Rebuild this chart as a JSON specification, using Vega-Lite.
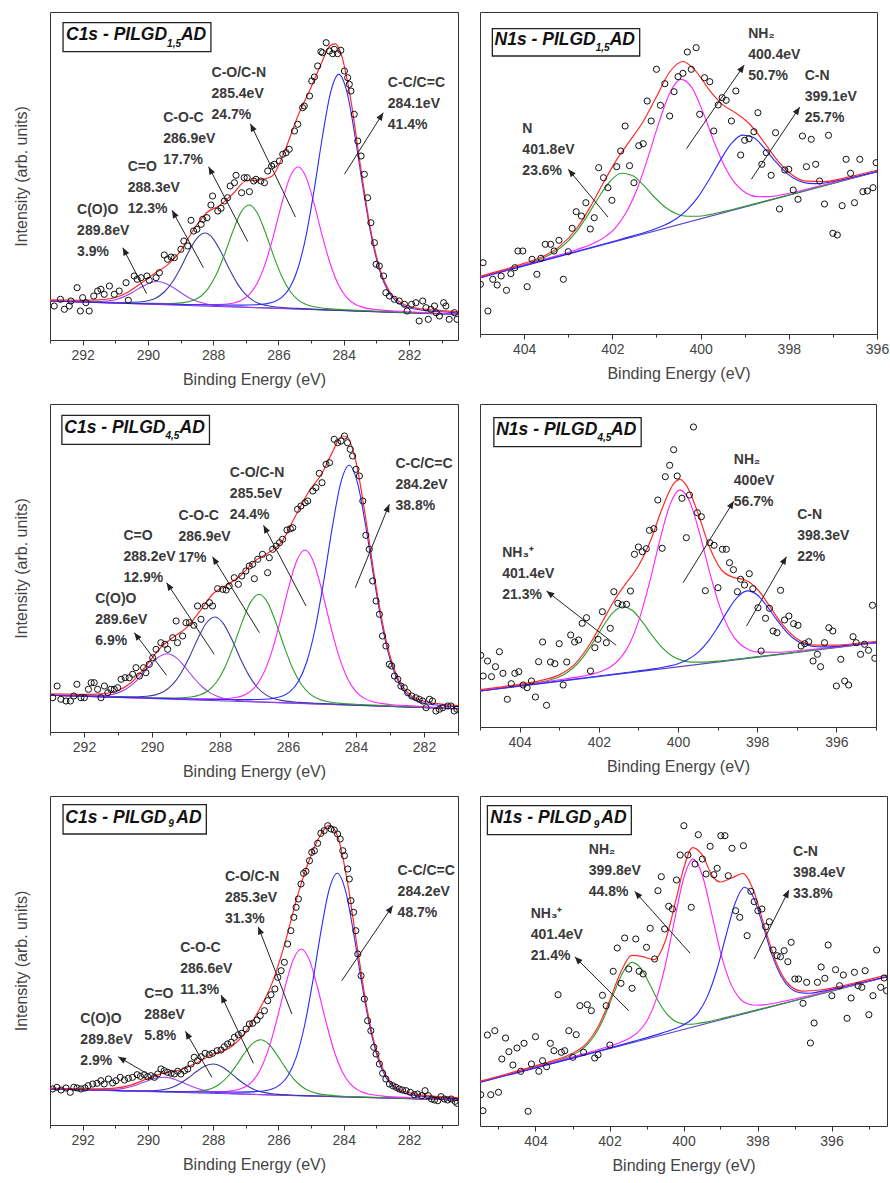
{
"$schema": "https://vega.github.io/schema/vega-lite/v6.json",
"padding": {"left": 12, "top": 11, "right": 0, "bottom": 0},
"background": "white",
"config": {
 "font": "Liberation Sans",
 "view": {"stroke": "#333", "strokeWidth": 1},
 "axisX": {"grid": false, "domain": false, "tickColor": "#333", "labelFontSize": 14, "labelColor": "#444", "labelPadding": 3, "titleFontSize": 16, "titleFontWeight": "normal", "titleColor": "#444", "titlePadding": 9, "labelOverlap": false, "labelFlush": false},
 "axisY": {"grid": false, "domain": false, "ticks": false, "labels": false, "titleFontSize": 16, "titleFontWeight": "normal", "titleColor": "#444", "titlePadding": 21}
},
"datasets": {
 "c1": [
  {"s":"bg","x":293,"y":39},{"s":"bg","x":280.5,"y":25.7},
  {"s":"A","x":293,"y":39},{"s":"A","x":292.7,"y":38.9},{"s":"A","x":292.2,"y":38.45},{"s":"A","x":291.7,"y":38.2},{"s":"A","x":291.2,"y":39.2},{"s":"A","x":290.95,"y":40.8},{"s":"A","x":290.7,"y":43.75},{"s":"A","x":290.45,"y":48.1},{"s":"A","x":290.2,"y":53},{"s":"A","x":289.95,"y":57.05},{"s":"A","x":289.7,"y":58.5},{"s":"A","x":289.45,"y":56.5},{"s":"A","x":289.2,"y":51.95},{"s":"A","x":288.95,"y":46.5},{"s":"A","x":288.7,"y":41.6},{"s":"A","x":288.45,"y":38.15},{"s":"A","x":288.2,"y":36},{"s":"A","x":287.7,"y":33.95},{"s":"A","x":287.2,"y":33.1},{"s":"A","x":286.7,"y":32.5},{"s":"A","x":280.5,"y":25.7},
  {"s":"B","x":293,"y":39},{"s":"B","x":291.25,"y":37.8},{"s":"B","x":290.75,"y":37.55},{"s":"B","x":290.25,"y":38},{"s":"B","x":290,"y":39.2},{"s":"B","x":289.75,"y":42.1},{"s":"B","x":289.5,"y":48},{"s":"B","x":289.25,"y":58},{"s":"B","x":289,"y":72.1},{"s":"B","x":288.75,"y":88.3},{"s":"B","x":288.5,"y":101.7},{"s":"B","x":288.25,"y":106.95},{"s":"B","x":288,"y":101.2},{"s":"B","x":287.75,"y":87.2},{"s":"B","x":287.5,"y":70.55},{"s":"B","x":287.25,"y":55.9},{"s":"B","x":287,"y":45.3},{"s":"B","x":286.75,"y":38.9},{"s":"B","x":286.5,"y":35.5},{"s":"B","x":286.25,"y":33.8},{"s":"B","x":285.75,"y":32.3},{"s":"B","x":285.25,"y":31.4},{"s":"B","x":280.5,"y":25.7},
  {"s":"C","x":293,"y":39},{"s":"C","x":289.9,"y":36.6},{"s":"C","x":289.4,"y":36.5},{"s":"C","x":288.9,"y":37.4},{"s":"C","x":288.65,"y":39.2},{"s":"C","x":288.4,"y":43.3},{"s":"C","x":288.15,"y":51.6},{"s":"C","x":287.9,"y":65.9},{"s":"C","x":287.65,"y":85.9},{"s":"C","x":287.4,"y":108.5},{"s":"C","x":287.15,"y":127.6},{"s":"C","x":286.9,"y":135},{"s":"C","x":286.65,"y":127},{"s":"C","x":286.4,"y":107.5},{"s":"C","x":286.15,"y":84.3},{"s":"C","x":285.9,"y":63.75},{"s":"C","x":285.65,"y":49},{"s":"C","x":285.4,"y":40.1},{"s":"C","x":285.15,"y":35.45},{"s":"C","x":284.9,"y":33.2},{"s":"C","x":284.4,"y":31.15},{"s":"C","x":283.9,"y":30.2},{"s":"C","x":280.5,"y":25.7},
  {"s":"D","x":293,"y":39},{"s":"D","x":288.4,"y":35.4},{"s":"D","x":287.9,"y":35.4},{"s":"D","x":287.4,"y":36.8},{"s":"D","x":287.15,"y":39.5},{"s":"D","x":286.9,"y":45.3},{"s":"D","x":286.65,"y":57},{"s":"D","x":286.4,"y":76.9},{"s":"D","x":286.15,"y":104.8},{"s":"D","x":285.9,"y":136.35},{"s":"D","x":285.65,"y":162.9},{"s":"D","x":285.4,"y":173.3},{"s":"D","x":285.15,"y":162.35},{"s":"D","x":284.9,"y":135.3},{"s":"D","x":284.65,"y":103.2},{"s":"D","x":284.4,"y":74.75},{"s":"D","x":284.15,"y":54.4},{"s":"D","x":283.9,"y":42.1},{"s":"D","x":283.65,"y":35.75},{"s":"D","x":283.4,"y":32.6},{"s":"D","x":282.9,"y":30.1},{"s":"D","x":282.4,"y":29},{"s":"D","x":280.5,"y":25.7},
  {"s":"E","x":293,"y":39},{"s":"E","x":287.15,"y":34.9},{"s":"E","x":286.65,"y":35.3},{"s":"E","x":286.15,"y":38.1},{"s":"E","x":285.9,"y":42.55},{"s":"E","x":285.65,"y":52.4},{"s":"E","x":285.4,"y":72},{"s":"E","x":285.15,"y":104.95},{"s":"E","x":284.9,"y":151.5},{"s":"E","x":284.65,"y":204},{"s":"E","x":284.4,"y":248.15},{"s":"E","x":284.15,"y":265.6},{"s":"E","x":283.9,"y":247.6},{"s":"E","x":283.65,"y":202.95},{"s":"E","x":283.4,"y":149.9},{"s":"E","x":283.15,"y":102.8},{"s":"E","x":282.9,"y":69.35},{"s":"E","x":282.65,"y":49.2},{"s":"E","x":282.4,"y":38.8},{"s":"E","x":282.15,"y":33.9},{"s":"E","x":281.65,"y":30},{"s":"E","x":281.15,"y":28.5},{"s":"E","x":280.5,"y":27.2},
  {"s":"env","x":293,"y":40.1},{"s":"env","x":292.5,"y":39.8},{"s":"env","x":292,"y":39.7},{"s":"env","x":291.5,"y":40.1},{"s":"env","x":291,"y":42.5},{"s":"env","x":290.6,"y":48.1},{"s":"env","x":290.2,"y":57},{"s":"env","x":289.8,"y":66.4},{"s":"env","x":289.4,"y":75.1},{"s":"env","x":289,"y":89.1},{"s":"env","x":288.6,"y":110.5},{"s":"env","x":288.2,"y":127.2},{"s":"env","x":287.8,"y":134.6},{"s":"env","x":287.4,"y":146},{"s":"env","x":287,"y":159},{"s":"env","x":286.6,"y":160.1},{"s":"env","x":286.2,"y":163.8},{"s":"env","x":285.8,"y":189.8},{"s":"env","x":285.4,"y":224.4},{"s":"env","x":285,"y":252.8},{"s":"env","x":284.7,"y":275.6},{"s":"env","x":284.4,"y":294.9},{"s":"env","x":284.25,"y":296.2},{"s":"env","x":284.1,"y":288},{"s":"env","x":283.8,"y":243.1},{"s":"env","x":283.5,"y":176.7},{"s":"env","x":283.2,"y":114.5},{"s":"env","x":282.9,"y":71.7},{"s":"env","x":282.6,"y":48.5},{"s":"env","x":282.2,"y":36.6},{"s":"env","x":281.8,"y":32.2},{"s":"env","x":281,"y":29.3},{"s":"env","x":280.5,"y":28.1}
 ],
 "d1": [
  {"x":292.87,"y":34},{"x":292.68,"y":40.7},{"x":292.56,"y":30.7},{"x":292.41,"y":34},{"x":292.36,"y":39},{"x":292.17,"y":52.3},{"x":292.07,"y":29},{"x":292,"y":42.3},{"x":291.9,"y":37.3},{"x":291.8,"y":29},{"x":291.66,"y":44},{"x":291.54,"y":49},{"x":291.44,"y":50.7},{"x":291.34,"y":45.7},{"x":291.18,"y":54},{"x":291.03,"y":45.7},{"x":290.88,"y":49},{"x":290.67,"y":57.3},{"x":290.6,"y":39.7},{"x":290.42,"y":64},{"x":290.33,"y":60.7},{"x":290.21,"y":62.3},{"x":290.03,"y":64},{"x":289.96,"y":59.7},{"x":289.75,"y":62.3},{"x":289.65,"y":67.3},{"x":289.5,"y":85},{"x":289.4,"y":80.7},{"x":289.29,"y":83},{"x":289.19,"y":82.3},{"x":288.99,"y":90.7},{"x":288.9,"y":99},{"x":288.78,"y":94},{"x":288.68,"y":119.7},{"x":288.6,"y":109},{"x":288.5,"y":110.7},{"x":288.37,"y":115.7},{"x":288.32,"y":120.7},{"x":288.19,"y":122.3},{"x":288.07,"y":135},{"x":288.02,"y":144},{"x":287.86,"y":129},{"x":287.76,"y":131.7},{"x":287.66,"y":139},{"x":287.56,"y":142.3},{"x":287.48,"y":154},{"x":287.35,"y":157.3},{"x":287.3,"y":164.7},{"x":287.13,"y":147.3},{"x":287.05,"y":162.3},{"x":286.96,"y":162.3},{"x":286.89,"y":148.3},{"x":286.76,"y":159},{"x":286.69,"y":160.7},{"x":286.54,"y":159},{"x":286.43,"y":157.3},{"x":286.33,"y":169},{"x":286.21,"y":174},{"x":286.13,"y":175.7},{"x":285.97,"y":179},{"x":285.87,"y":185.7},{"x":285.77,"y":187.3},{"x":285.67,"y":190.7},{"x":285.51,"y":209},{"x":285.41,"y":215.7},{"x":285.26,"y":232.3},{"x":285.21,"y":234},{"x":285.05,"y":244},{"x":284.98,"y":259},{"x":284.9,"y":263},{"x":284.8,"y":274},{"x":284.7,"y":288.3},{"x":284.65,"y":287.3},{"x":284.54,"y":297.3},{"x":284.44,"y":289},{"x":284.34,"y":286.3},{"x":284.29,"y":290.7},{"x":284.19,"y":286.3},{"x":284.09,"y":289.7},{"x":283.98,"y":269},{"x":283.88,"y":262.3},{"x":283.83,"y":255.7},{"x":283.78,"y":249},{"x":283.68,"y":225.7},{"x":283.57,"y":199},{"x":283.47,"y":184},{"x":283.37,"y":165.7},{"x":283.27,"y":142.3},{"x":283.17,"y":117.3},{"x":283.06,"y":97.3},{"x":283.01,"y":75.7},{"x":282.91,"y":74},{"x":282.78,"y":64},{"x":282.71,"y":47.3},{"x":282.6,"y":44},{"x":282.45,"y":40.7},{"x":282.3,"y":39},{"x":282.14,"y":35.7},{"x":282.06,"y":29},{"x":281.92,"y":35.7},{"x":281.79,"y":37.3},{"x":281.69,"y":19},{"x":281.58,"y":39},{"x":281.48,"y":32.3},{"x":281.41,"y":20.7},{"x":281.33,"y":30.7},{"x":281.22,"y":34},{"x":281.17,"y":27.3},{"x":281.07,"y":24},{"x":280.94,"y":37.3},{"x":280.87,"y":34},{"x":280.77,"y":20.7},{"x":280.61,"y":27.3},{"x":280.53,"y":20.7}
 ],
 "l1": [
  {"x":292.17,"y":137,"t":"C(O)O\n289.8eV\n3.9%"},
  {"x":290.62,"y":180,"t":"C=O\n288.3eV\n12.3%"},
  {"x":289.53,"y":229,"t":"C-O-C\n286.9eV\n17.7%"},
  {"x":288.05,"y":274,"t":"C-O/C-N\n285.4eV\n24.7%"},
  {"x":282.65,"y":264,"t":"C-C/C=C\n284.1eV\n41.4%"}
 ],
 "r1": [
  {"x":290.77,"y":92.3,"x2":290.04,"y2":46.3,"a":-27.6},
  {"x":289.26,"y":129.7,"x2":288.3,"y2":72.3,"a":-28.7},
  {"x":288.14,"y":173.3,"x2":286.94,"y2":98.3,"a":-27.5},
  {"x":286.86,"y":216.3,"x2":285.48,"y2":123,"a":-25.7},
  {"x":282.79,"y":227.3,"x2":283.98,"y2":165.7,"a":32.3}
 ],
 "t1": [
  {"k":"box","x":292.6,"x2":288.07,"y":317.3,"y2":288.3},
  {"k":"big","x":292.51,"y":299.7,"t":"C1s - PILGD"},
  {"k":"sub","x":289.2,"y":293.3,"t":"1,5"},
  {"k":"big","x":288.99,"y":299.7,"t":"AD"}
 ],
 "c2": [
  {"s":"bg","x":405,"y":56.3},{"s":"bg","x":396,"y":162.3},
  {"s":"G","x":405,"y":56.3},{"s":"G","x":404.8,"y":59.3},{"s":"G","x":404.3,"y":65.4},{"s":"G","x":403.8,"y":72.2},{"s":"G","x":403.55,"y":76.5},{"s":"G","x":403.3,"y":82.3},{"s":"G","x":403.05,"y":90.9},{"s":"G","x":402.8,"y":103.2},{"s":"G","x":402.55,"y":119.4},{"s":"G","x":402.3,"y":137.3},{"s":"G","x":402.05,"y":152.75},{"s":"G","x":401.8,"y":160.7},{"s":"G","x":401.55,"y":158.6},{"s":"G","x":401.3,"y":149.1},{"s":"G","x":401.05,"y":137},{"s":"G","x":400.8,"y":126.8},{"s":"G","x":400.55,"y":120.3},{"s":"G","x":400.3,"y":117.7},{"s":"G","x":400.05,"y":117.7},{"s":"G","x":399.8,"y":119.4},{"s":"G","x":399.3,"y":124.3},{"s":"G","x":398.8,"y":129.9},{"s":"G","x":396,"y":162.3},
  {"s":"M","x":405,"y":56.3},{"s":"M","x":403.45,"y":75.9},{"s":"M","x":402.95,"y":82.35},{"s":"M","x":402.45,"y":90.2},{"s":"M","x":402.2,"y":96.1},{"s":"M","x":401.95,"y":105.2},{"s":"M","x":401.7,"y":120.4},{"s":"M","x":401.45,"y":143.7},{"s":"M","x":401.2,"y":175.3},{"s":"M","x":400.95,"y":210.6},{"s":"M","x":400.7,"y":240.75},{"s":"M","x":400.45,"y":254.6},{"s":"M","x":400.2,"y":246.6},{"s":"M","x":399.95,"y":222.4},{"s":"M","x":399.7,"y":192.9},{"s":"M","x":399.45,"y":167.3},{"s":"M","x":399.2,"y":149.8},{"s":"M","x":398.95,"y":140.6},{"s":"M","x":398.7,"y":137.3},{"s":"M","x":398.45,"y":137.4},{"s":"M","x":397.95,"y":141.25},{"s":"M","x":397.45,"y":146.5},{"s":"M","x":396,"y":162.3},
  {"s":"K","x":405,"y":56.3},{"s":"K","x":402.05,"y":91.7},{"s":"K","x":401.55,"y":97.9},{"s":"K","x":401.05,"y":104.8},{"s":"K","x":400.8,"y":109.2},{"s":"K","x":400.55,"y":115.2},{"s":"K","x":400.3,"y":124.3},{"s":"K","x":400.05,"y":137.4},{"s":"K","x":399.8,"y":154.8},{"s":"K","x":399.55,"y":173.9},{"s":"K","x":399.3,"y":190.55},{"s":"K","x":399.05,"y":198.9},{"s":"K","x":398.8,"y":196.4},{"s":"K","x":398.55,"y":185.7},{"s":"K","x":398.3,"y":172.4},{"s":"K","x":398.05,"y":160.95},{"s":"K","x":397.8,"y":153.7},{"s":"K","x":397.55,"y":150.6},{"s":"K","x":397.3,"y":150.4},{"s":"K","x":397.05,"y":151.95},{"s":"K","x":396.55,"y":156.8},{"s":"K","x":396,"y":162.4},
  {"s":"env","x":405,"y":57.6},{"s":"env","x":404.5,"y":63.8},{"s":"env","x":404,"y":70.6},{"s":"env","x":403.6,"y":77},{"s":"env","x":403.2,"y":87.4},{"s":"env","x":402.8,"y":106},{"s":"env","x":402.5,"y":127.1},{"s":"env","x":402.2,"y":151.5},{"s":"env","x":401.9,"y":174.4},{"s":"env","x":401.6,"y":193.3},{"s":"env","x":401.3,"y":212.5},{"s":"env","x":401,"y":237.2},{"s":"env","x":400.7,"y":262},{"s":"env","x":400.4,"y":272.5},{"s":"env","x":400.1,"y":262.4},{"s":"env","x":399.8,"y":243.9},{"s":"env","x":399.5,"y":229.4},{"s":"env","x":399.2,"y":220.9},{"s":"env","x":398.9,"y":210.5},{"s":"env","x":398.6,"y":194.2},{"s":"env","x":398.3,"y":175.9},{"s":"env","x":398,"y":161.8},{"s":"env","x":397.6,"y":152.8},{"s":"env","x":397.2,"y":152.4},{"s":"env","x":396.8,"y":155.4},{"s":"env","x":396.4,"y":159.5},{"s":"env","x":396,"y":163.8}
 ],
 "d2": [
  {"x":404.93,"y":71.3},{"x":404.99,"y":49.7},{"x":404.82,"y":23},{"x":404.71,"y":54.7},{"x":404.61,"y":49},{"x":404.52,"y":58},{"x":404.4,"y":43.7},{"x":404.3,"y":60.3},{"x":404.21,"y":66.3},{"x":404.14,"y":83},{"x":404.03,"y":83},{"x":403.93,"y":47.3},{"x":403.82,"y":74.7},{"x":403.71,"y":59.7},{"x":403.62,"y":75.7},{"x":403.52,"y":89.7},{"x":403.4,"y":89.7},{"x":403.32,"y":83},{"x":403.21,"y":93.7},{"x":403.11,"y":54.7},{"x":403,"y":82.3},{"x":402.91,"y":105.7},{"x":402.82,"y":122.3},{"x":402.7,"y":118},{"x":402.6,"y":131.3},{"x":402.5,"y":105},{"x":402.41,"y":116.3},{"x":402.31,"y":166.3},{"x":402.2,"y":156.3},{"x":402.1,"y":146.3},{"x":402.01,"y":133.7},{"x":401.9,"y":167.3},{"x":401.81,"y":183},{"x":401.71,"y":208},{"x":401.61,"y":168.3},{"x":401.51,"y":151.3},{"x":401.4,"y":188.3},{"x":401.3,"y":190.3},{"x":401.21,"y":233},{"x":401.12,"y":213},{"x":401,"y":264.7},{"x":400.91,"y":228.7},{"x":400.81,"y":250.3},{"x":400.7,"y":218},{"x":400.6,"y":242.3},{"x":400.51,"y":257.3},{"x":400.4,"y":260.7},{"x":400.3,"y":282},{"x":400.21,"y":264.7},{"x":400.1,"y":286.3},{"x":400.02,"y":219.7},{"x":399.91,"y":256.3},{"x":399.79,"y":252.3},{"x":399.7,"y":203},{"x":399.6,"y":229},{"x":399.51,"y":236.3},{"x":399.42,"y":233.7},{"x":399.3,"y":213},{"x":399.2,"y":243},{"x":399.09,"y":179},{"x":399,"y":193.7},{"x":398.9,"y":195.3},{"x":398.79,"y":202.3},{"x":398.7,"y":221.3},{"x":398.61,"y":169.7},{"x":398.51,"y":181.3},{"x":398.4,"y":158.7},{"x":398.3,"y":201.3},{"x":398.21,"y":125},{"x":398.09,"y":164},{"x":398,"y":164.7},{"x":397.9,"y":144},{"x":397.79,"y":134.7},{"x":397.69,"y":198},{"x":397.6,"y":167.3},{"x":397.49,"y":194.7},{"x":397.39,"y":169.7},{"x":397.3,"y":153},{"x":397.19,"y":130},{"x":397.1,"y":198.7},{"x":397,"y":100.7},{"x":396.9,"y":99},{"x":396.79,"y":128.3},{"x":396.7,"y":174.7},{"x":396.6,"y":160.7},{"x":396.51,"y":131.3},{"x":396.39,"y":174.7},{"x":396.32,"y":142.3},{"x":396.22,"y":143},{"x":396.09,"y":146.3},{"x":396.02,"y":171.3}
 ],
 "l2": [
  {"x":404.04,"y":212,"t":"N\n401.8eV\n23.6%"},
  {"x":398.92,"y":307,"t":"NH₂\n400.4eV\n50.7%"},
  {"x":397.64,"y":265,"t":"C-N\n399.1eV\n25.7%"}
 ],
 "r2": [
  {"x":403,"y":164.7,"x2":402.1,"y2":117,"a":-40},
  {"x":399.01,"y":269,"x2":400.32,"y2":185.3,"a":34.6},
  {"x":397.75,"y":227,"x2":398.85,"y2":154.7,"a":33.7}
 ],
 "t2": [
  {"k":"box","x":404.72,"x2":401.38,"y":305.3,"y2":278},
  {"k":"big","x":404.67,"y":288.7,"t":"N1s - PILGD"},
  {"k":"sub","x":402.22,"y":283,"t":"1,5"},
  {"k":"big","x":402.06,"y":288.7,"t":"AD"}
 ],
 "c3": [
  {"s":"bg","x":293,"y":36.7},{"s":"bg","x":281,"y":23.3},
  {"s":"A","x":293,"y":36.7},{"s":"A","x":292.55,"y":36.6},{"s":"A","x":292.05,"y":36.24},{"s":"A","x":291.55,"y":36.3},{"s":"A","x":291.3,"y":36.9},{"s":"A","x":291.05,"y":38.6},{"s":"A","x":290.8,"y":42.15},{"s":"A","x":290.55,"y":48.3},{"s":"A","x":290.3,"y":57},{"s":"A","x":290.05,"y":66.9},{"s":"A","x":289.8,"y":75.1},{"s":"A","x":289.55,"y":78.25},{"s":"A","x":289.3,"y":74.6},{"s":"A","x":289.05,"y":65.8},{"s":"A","x":288.8,"y":55.3},{"s":"A","x":288.55,"y":46},{"s":"A","x":288.3,"y":39.35},{"s":"A","x":288.05,"y":35.3},{"s":"A","x":287.8,"y":33},{"s":"A","x":287.55,"y":31.8},{"s":"A","x":287.05,"y":30.66},{"s":"A","x":286.55,"y":29.9},{"s":"A","x":281,"y":23.3},
  {"s":"B","x":293,"y":36.7},{"s":"B","x":291.15,"y":35.4},{"s":"B","x":290.65,"y":35.2},{"s":"B","x":290.15,"y":35.8},{"s":"B","x":289.9,"y":37.1},{"s":"B","x":289.65,"y":40.5},{"s":"B","x":289.4,"y":47.3},{"s":"B","x":289.15,"y":58.8},{"s":"B","x":288.9,"y":75},{"s":"B","x":288.65,"y":93.55},{"s":"B","x":288.4,"y":109},{"s":"B","x":288.15,"y":115},{"s":"B","x":287.9,"y":108.4},{"s":"B","x":287.65,"y":92.4},{"s":"B","x":287.4,"y":73.35},{"s":"B","x":287.15,"y":56.6},{"s":"B","x":286.9,"y":44.5},{"s":"B","x":286.65,"y":37.1},{"s":"B","x":286.4,"y":33.2},{"s":"B","x":286.15,"y":31.35},{"s":"B","x":285.65,"y":29.6},{"s":"B","x":285.15,"y":28.7},{"s":"B","x":281,"y":23.3},
  {"s":"C","x":293,"y":36.7},{"s":"C","x":289.85,"y":34.2},{"s":"C","x":289.35,"y":34},{"s":"C","x":288.85,"y":35},{"s":"C","x":288.6,"y":36.9},{"s":"C","x":288.35,"y":41.2},{"s":"C","x":288.1,"y":50},{"s":"C","x":287.85,"y":65},{"s":"C","x":287.6,"y":86.1},{"s":"C","x":287.35,"y":109.9},{"s":"C","x":287.1,"y":129.9},{"s":"C","x":286.85,"y":137.7},{"s":"C","x":286.6,"y":129.4},{"s":"C","x":286.35,"y":108.8},{"s":"C","x":286.1,"y":84.4},{"s":"C","x":285.85,"y":62.7},{"s":"C","x":285.6,"y":47.2},{"s":"C","x":285.35,"y":37.9},{"s":"C","x":285.1,"y":33},{"s":"C","x":284.85,"y":30.5},{"s":"C","x":284.35,"y":28.4},{"s":"C","x":283.85,"y":27.5},{"s":"C","x":281,"y":23.3},
  {"s":"D","x":293,"y":36.7},{"s":"D","x":288.5,"y":33.1},{"s":"D","x":288,"y":33.1},{"s":"D","x":287.5,"y":34.7},{"s":"D","x":287.25,"y":37.5},{"s":"D","x":287,"y":43.8},{"s":"D","x":286.75,"y":56.4},{"s":"D","x":286.5,"y":77.8},{"s":"D","x":286.25,"y":107.96},{"s":"D","x":286,"y":142.2},{"s":"D","x":285.75,"y":170.8},{"s":"D","x":285.5,"y":182},{"s":"D","x":285.25,"y":170.25},{"s":"D","x":285,"y":141.1},{"s":"D","x":284.75,"y":106.3},{"s":"D","x":284.5,"y":75.6},{"s":"D","x":284.25,"y":53.6},{"s":"D","x":284,"y":40.45},{"s":"D","x":283.75,"y":33.6},{"s":"D","x":283.5,"y":30.2},{"s":"D","x":283,"y":27.5},{"s":"D","x":282.5,"y":26.4},{"s":"D","x":281,"y":23.3},
  {"s":"E","x":293,"y":36.7},{"s":"E","x":287.2,"y":32.4},{"s":"E","x":286.7,"y":32.8},{"s":"E","x":286.2,"y":35.6},{"s":"E","x":285.95,"y":40.1},{"s":"E","x":285.7,"y":50.15},{"s":"E","x":285.45,"y":70},{"s":"E","x":285.2,"y":103.5},{"s":"E","x":284.95,"y":150.7},{"s":"E","x":284.7,"y":204.1},{"s":"E","x":284.45,"y":248.95},{"s":"E","x":284.2,"y":266.7},{"s":"E","x":283.95,"y":248.4},{"s":"E","x":283.7,"y":203},{"s":"E","x":283.45,"y":149},{"s":"E","x":283.2,"y":101.3},{"s":"E","x":282.95,"y":67.2},{"s":"E","x":282.7,"y":46.8},{"s":"E","x":282.45,"y":36.2},{"s":"E","x":282.2,"y":31.1},{"s":"E","x":281.7,"y":27.2},{"s":"E","x":281.2,"y":25.7},{"s":"E","x":281,"y":25.3},
  {"s":"env","x":293,"y":38.1},{"s":"env","x":292.5,"y":37.8},{"s":"env","x":292,"y":37.7},{"s":"env","x":291.5,"y":38.2},{"s":"env","x":291,"y":41.5},{"s":"env","x":290.6,"y":49.7},{"s":"env","x":290.2,"y":65},{"s":"env","x":289.8,"y":82.5},{"s":"env","x":289.4,"y":94.2},{"s":"env","x":289,"y":103.9},{"s":"env","x":288.6,"y":120.4},{"s":"env","x":288.2,"y":138.5},{"s":"env","x":287.8,"y":147},{"s":"env","x":287.4,"y":156.2},{"s":"env","x":287,"y":170.4},{"s":"env","x":286.6,"y":178.7},{"s":"env","x":286.2,"y":189.4},{"s":"env","x":285.8,"y":214.7},{"s":"env","x":285.4,"y":239.8},{"s":"env","x":285,"y":258.7},{"s":"env","x":284.7,"y":279.4},{"s":"env","x":284.4,"y":296},{"s":"env","x":284.25,"y":294.5},{"s":"env","x":284,"y":270},{"s":"env","x":283.7,"y":210.6},{"s":"env","x":283.4,"y":143.3},{"s":"env","x":283.1,"y":89.4},{"s":"env","x":282.8,"y":56.2},{"s":"env","x":282.4,"y":36.8},{"s":"env","x":282,"y":30.8},{"s":"env","x":281.5,"y":27.9},{"s":"env","x":281,"y":26.45}
 ],
 "d3": [
  {"x":292.92,"y":34.3},{"x":292.79,"y":46},{"x":292.68,"y":32.7},{"x":292.53,"y":31},{"x":292.4,"y":31},{"x":292.3,"y":36},{"x":292.21,"y":47.7},{"x":292.09,"y":34.3},{"x":291.99,"y":34.3},{"x":291.87,"y":42.7},{"x":291.79,"y":49.3},{"x":291.7,"y":49.3},{"x":291.6,"y":42.7},{"x":291.5,"y":34.3},{"x":291.4,"y":46},{"x":291.3,"y":39.3},{"x":291.21,"y":42.7},{"x":291.11,"y":42.7},{"x":291.01,"y":44.3},{"x":290.91,"y":52.7},{"x":290.79,"y":54.3},{"x":290.67,"y":54.3},{"x":290.57,"y":57.7},{"x":290.47,"y":64.3},{"x":290.37,"y":56},{"x":290.25,"y":64.3},{"x":290.18,"y":59.3},{"x":290.08,"y":67.7},{"x":289.98,"y":74.3},{"x":289.88,"y":82.7},{"x":289.74,"y":89.3},{"x":289.62,"y":87.7},{"x":289.54,"y":82.7},{"x":289.39,"y":94.3},{"x":289.29,"y":111},{"x":289.25,"y":89.3},{"x":289.1,"y":96},{"x":289,"y":109.3},{"x":288.9,"y":109.3},{"x":288.77,"y":106.7},{"x":288.66,"y":126},{"x":288.56,"y":112.7},{"x":288.44,"y":126},{"x":288.31,"y":129.3},{"x":288.22,"y":126},{"x":288.07,"y":143.3},{"x":287.92,"y":142.7},{"x":287.82,"y":142},{"x":287.73,"y":146},{"x":287.58,"y":154.3},{"x":287.46,"y":147.7},{"x":287.36,"y":156},{"x":287.24,"y":161},{"x":287.14,"y":166},{"x":287.04,"y":167.7},{"x":286.99,"y":153.3},{"x":286.89,"y":172.7},{"x":286.75,"y":177.7},{"x":286.6,"y":159.3},{"x":286.55,"y":174.3},{"x":286.45,"y":182.7},{"x":286.35,"y":186},{"x":286.25,"y":189.3},{"x":286.16,"y":192.7},{"x":286.03,"y":202},{"x":285.93,"y":203.3},{"x":285.86,"y":204.3},{"x":285.72,"y":222.7},{"x":285.62,"y":226},{"x":285.5,"y":229.3},{"x":285.42,"y":231},{"x":285.27,"y":241},{"x":285.18,"y":244.3},{"x":285.08,"y":258.7},{"x":285,"y":249.3},{"x":284.88,"y":267.7},{"x":284.78,"y":269.3},{"x":284.64,"y":292.7},{"x":284.54,"y":289.3},{"x":284.44,"y":291},{"x":284.34,"y":296},{"x":284.25,"y":289.3},{"x":284.17,"y":282.7},{"x":284.1,"y":276},{"x":284,"y":262.7},{"x":283.9,"y":256},{"x":283.8,"y":231},{"x":283.71,"y":196.7},{"x":283.61,"y":182.7},{"x":283.51,"y":151},{"x":283.41,"y":131},{"x":283.31,"y":117.7},{"x":283.22,"y":96},{"x":283.12,"y":86},{"x":283.02,"y":67.7},{"x":282.95,"y":66},{"x":282.87,"y":56},{"x":282.77,"y":52.7},{"x":282.68,"y":46},{"x":282.58,"y":44.3},{"x":282.48,"y":39.3},{"x":282.36,"y":36},{"x":282.24,"y":34.3},{"x":282.14,"y":32.7},{"x":282.04,"y":31},{"x":281.94,"y":24.3},{"x":281.84,"y":32.7},{"x":281.75,"y":31},{"x":281.65,"y":21},{"x":281.55,"y":22.7},{"x":281.45,"y":24.3},{"x":281.3,"y":26},{"x":281.21,"y":26},{"x":281.11,"y":21},{"x":281.03,"y":22.7}
 ],
 "l3": [
  {"x":291.67,"y":139.7,"t":"C(O)O\n289.6eV\n6.9%"},
  {"x":290.84,"y":203,"t":"C=O\n288.2eV\n12.9%"},
  {"x":289.22,"y":223,"t":"C-O-C\n286.9eV\n17%"},
  {"x":287.71,"y":266,"t":"C-O/C-N\n285.5eV\n24.4%"},
  {"x":282.84,"y":275.3,"t":"C-C/C=C\n284.2eV\n38.8%"}
 ],
 "r3": [
  {"x":290.52,"y":99.3,"x2":289.57,"y2":56.7,"a":-37.1},
  {"x":289.57,"y":149.3,"x2":288.17,"y2":77.7,"a":-33.6},
  {"x":288.22,"y":175.3,"x2":286.84,"y2":99.3,"a":-31.6},
  {"x":286.72,"y":206.7,"x2":285.47,"y2":126,"a":-27.7},
  {"x":283.02,"y":227.7,"x2":284.02,"y2":144.3,"a":22.2}
 ],
 "t3": [
  {"k":"box","x":292.65,"x2":288.31,"y":316.7,"y2":287.7},
  {"k":"big","x":292.58,"y":299.3,"t":"C1s - PILGD"},
  {"k":"sub","x":289.4,"y":292.7,"t":"4,5"},
  {"k":"big","x":289.19,"y":299.3,"t":"AD"}
 ],
 "c4": [
  {"s":"bg","x":405,"y":36},{"s":"bg","x":395,"y":84.3},
  {"s":"G","x":405,"y":36},{"s":"G","x":404.4,"y":39.5},{"s":"G","x":403.9,"y":42.2},{"s":"G","x":403.4,"y":45.5},{"s":"G","x":403.15,"y":48},{"s":"G","x":402.9,"y":52.1},{"s":"G","x":402.65,"y":59},{"s":"G","x":402.4,"y":69.7},{"s":"G","x":402.15,"y":84.1},{"s":"G","x":401.9,"y":100.3},{"s":"G","x":401.65,"y":114.1},{"s":"G","x":401.4,"y":120.3},{"s":"G","x":401.15,"y":116.5},{"s":"G","x":400.9,"y":105.1},{"s":"G","x":400.65,"y":91.3},{"s":"G","x":400.4,"y":79.3},{"s":"G","x":400.15,"y":71},{"s":"G","x":399.9,"y":66.6},{"s":"G","x":399.65,"y":64.9},{"s":"G","x":399.4,"y":64.85},{"s":"G","x":398.9,"y":66.3},{"s":"G","x":398.4,"y":68.5},{"s":"G","x":395,"y":84.3},
  {"s":"M","x":405,"y":36},{"s":"M","x":402.95,"y":47.5},{"s":"M","x":402.45,"y":50.6},{"s":"M","x":401.95,"y":55.5},{"s":"M","x":401.7,"y":60.2},{"s":"M","x":401.45,"y":69.05},{"s":"M","x":401.2,"y":85.05},{"s":"M","x":400.95,"y":111.3},{"s":"M","x":400.7,"y":147.4},{"s":"M","x":400.45,"y":188.2},{"s":"M","x":400.2,"y":222.6},{"s":"M","x":399.95,"y":237.1},{"s":"M","x":399.7,"y":225},{"s":"M","x":399.45,"y":193},{"s":"M","x":399.2,"y":154.6},{"s":"M","x":398.95,"y":120.9},{"s":"M","x":398.7,"y":97.1},{"s":"M","x":398.45,"y":83.5},{"s":"M","x":398.2,"y":77.1},{"s":"M","x":397.95,"y":74.85},{"s":"M","x":397.45,"y":74.8},{"s":"M","x":396.95,"y":76.5},{"s":"M","x":395,"y":84.3},
  {"s":"K","x":405,"y":36},{"s":"K","x":401.25,"y":54.7},{"s":"K","x":400.75,"y":57.4},{"s":"K","x":400.25,"y":60.7},{"s":"K","x":400,"y":63.35},{"s":"K","x":399.75,"y":67.5},{"s":"K","x":399.5,"y":74.3},{"s":"K","x":399.25,"y":85.1},{"s":"K","x":399,"y":99.6},{"s":"K","x":398.75,"y":115.9},{"s":"K","x":398.5,"y":129.8},{"s":"K","x":398.25,"y":136.1},{"s":"K","x":398,"y":132.2},{"s":"K","x":397.75,"y":120.7},{"s":"K","x":397.5,"y":106.8},{"s":"K","x":397.25,"y":94.7},{"s":"K","x":397,"y":86.3},{"s":"K","x":396.75,"y":81.95},{"s":"K","x":396.5,"y":80.3},{"s":"K","x":396.25,"y":80.1},{"s":"K","x":395.75,"y":81.6},{"s":"K","x":395.25,"y":83.7},{"s":"K","x":395,"y":84.3},
  {"s":"env","x":405,"y":37.2},{"s":"env","x":404.5,"y":39.9},{"s":"env","x":404,"y":42.7},{"s":"env","x":403.5,"y":46.2},{"s":"env","x":403,"y":52.1},{"s":"env","x":402.6,"y":63.1},{"s":"env","x":402.2,"y":84.5},{"s":"env","x":401.9,"y":106},{"s":"env","x":401.6,"y":127.3},{"s":"env","x":401.3,"y":144.4},{"s":"env","x":401,"y":161},{"s":"env","x":400.7,"y":185.7},{"s":"env","x":400.4,"y":218.5},{"s":"env","x":400.1,"y":243.8},{"s":"env","x":399.95,"y":247.7},{"s":"env","x":399.8,"y":242.4},{"s":"env","x":399.5,"y":214.3},{"s":"env","x":399.2,"y":179.5},{"s":"env","x":398.9,"y":157},{"s":"env","x":398.6,"y":149.6},{"s":"env","x":398.3,"y":147},{"s":"env","x":398,"y":138},{"s":"env","x":397.7,"y":121.7},{"s":"env","x":397.4,"y":104.3},{"s":"env","x":397,"y":88.3},{"s":"env","x":396.5,"y":81.8},{"s":"env","x":396,"y":81.9},{"s":"env","x":395.5,"y":83.6},{"s":"env","x":395,"y":85.75}
 ],
 "d4": [
  {"x":404.98,"y":71.7},{"x":404.92,"y":51},{"x":404.81,"y":66},{"x":404.71,"y":50.3},{"x":404.61,"y":60.3},{"x":404.51,"y":75.3},{"x":404.42,"y":53.7},{"x":404.31,"y":27.7},{"x":404.21,"y":43.3},{"x":404.12,"y":53.7},{"x":404.02,"y":55.3},{"x":403.91,"y":42},{"x":403.81,"y":39.3},{"x":403.7,"y":46},{"x":403.6,"y":30},{"x":403.52,"y":65.3},{"x":403.42,"y":85},{"x":403.32,"y":21.7},{"x":403.22,"y":65},{"x":403.11,"y":63.3},{"x":403,"y":83.3},{"x":402.9,"y":42},{"x":402.81,"y":65},{"x":402.71,"y":92},{"x":402.61,"y":85},{"x":402.51,"y":87},{"x":402.42,"y":103.7},{"x":402.31,"y":109.3},{"x":402.21,"y":56},{"x":402.1,"y":79.3},{"x":402.02,"y":87.7},{"x":401.91,"y":115.3},{"x":401.81,"y":84.3},{"x":401.71,"y":98.7},{"x":401.62,"y":135.3},{"x":401.52,"y":123.7},{"x":401.41,"y":122},{"x":401.3,"y":122.7},{"x":401.2,"y":136},{"x":401.1,"y":172.7},{"x":401,"y":180},{"x":400.9,"y":175.3},{"x":400.8,"y":178.3},{"x":400.72,"y":196.7},{"x":400.61,"y":198.3},{"x":400.51,"y":227},{"x":400.4,"y":178.7},{"x":400.32,"y":250.3},{"x":400.21,"y":261.7},{"x":400.11,"y":277.3},{"x":400.02,"y":251},{"x":399.9,"y":228.7},{"x":399.79,"y":189.3},{"x":399.71,"y":232},{"x":399.61,"y":300},{"x":399.51,"y":214.3},{"x":399.41,"y":210.3},{"x":399.31,"y":136.3},{"x":399.2,"y":184.3},{"x":399.09,"y":181.7},{"x":398.99,"y":139.3},{"x":398.88,"y":177.7},{"x":398.78,"y":177.7},{"x":398.7,"y":164.3},{"x":398.6,"y":157.3},{"x":398.5,"y":135.3},{"x":398.42,"y":147.7},{"x":398.32,"y":142},{"x":398.2,"y":153.3},{"x":398.11,"y":138.3},{"x":397.98,"y":119.3},{"x":397.9,"y":76},{"x":397.79,"y":108.7},{"x":397.69,"y":118.7},{"x":397.6,"y":96},{"x":397.5,"y":94.3},{"x":397.41,"y":136.7},{"x":397.31,"y":107},{"x":397.2,"y":111},{"x":397.08,"y":103.3},{"x":396.97,"y":101.7},{"x":396.89,"y":81},{"x":396.8,"y":83.3},{"x":396.7,"y":85.3},{"x":396.59,"y":66},{"x":396.48,"y":72.7},{"x":396.4,"y":60.3},{"x":396.3,"y":84.3},{"x":396.19,"y":99.3},{"x":396.09,"y":96},{"x":396,"y":41},{"x":395.89,"y":67.7},{"x":395.79,"y":46},{"x":395.69,"y":42},{"x":395.58,"y":90.3},{"x":395.5,"y":84.3},{"x":395.39,"y":72.7},{"x":395.29,"y":82.7},{"x":395.19,"y":76.7},{"x":395.09,"y":121.7},{"x":395.03,"y":68.7}
 ],
 "l4": [
  {"x":404.44,"y":181,"t":"NH₃⁺\n401.4eV\n21.3%"},
  {"x":398.59,"y":273.7,"t":"NH₂\n400eV\n56.7%"},
  {"x":396.99,"y":218.7,"t":"C-N\n398.3eV\n22%"}
 ],
 "r4": [
  {"x":403.32,"y":136,"x2":401.56,"y2":81.7,"a":-52.2},
  {"x":398.59,"y":226,"x2":399.87,"y2":144.3,"a":32},
  {"x":397.26,"y":170.3,"x2":398.27,"y2":101,"a":30}
 ],
 "t4": [
  {"k":"box","x":404.65,"x2":400.93,"y":309.3,"y2":280.3},
  {"k":"big","x":404.59,"y":291.7,"t":"N1s - PILGD"},
  {"k":"sub","x":401.86,"y":286,"t":"4,5"},
  {"k":"big","x":401.69,"y":291.7,"t":"AD"}
 ],
 "c5": [
  {"s":"bg","x":293,"y":36},{"s":"bg","x":280.5,"y":25},
  {"s":"A","x":293,"y":36},{"s":"A","x":292.5,"y":35.7},{"s":"A","x":292,"y":35.3},{"s":"A","x":291.5,"y":35.1},{"s":"A","x":291.25,"y":35.2},{"s":"A","x":291,"y":35.5},{"s":"A","x":290.75,"y":36.6},{"s":"A","x":290.5,"y":38.5},{"s":"A","x":290.25,"y":41.2},{"s":"A","x":290,"y":44.3},{"s":"A","x":289.75,"y":46.8},{"s":"A","x":289.5,"y":47.7},{"s":"A","x":289.25,"y":46.4},{"s":"A","x":289,"y":43.4},{"s":"A","x":288.75,"y":39.9},{"s":"A","x":288.5,"y":36.7},{"s":"A","x":288.25,"y":34.4},{"s":"A","x":288,"y":32.9},{"s":"A","x":287.75,"y":32.1},{"s":"A","x":287.5,"y":31.6},{"s":"A","x":287,"y":30.9},{"s":"A","x":286.5,"y":30.4},{"s":"A","x":280.5,"y":25},
  {"s":"B","x":293,"y":36},{"s":"B","x":291,"y":34.5},{"s":"B","x":290.5,"y":34.2},{"s":"B","x":290,"y":34.2},{"s":"B","x":289.75,"y":34.5},{"s":"B","x":289.5,"y":35.5},{"s":"B","x":289.25,"y":37.8},{"s":"B","x":289,"y":41.8},{"s":"B","x":288.75,"y":47.4},{"s":"B","x":288.5,"y":53.7},{"s":"B","x":288.25,"y":59},{"s":"B","x":288,"y":61},{"s":"B","x":287.75,"y":58.6},{"s":"B","x":287.5,"y":52.9},{"s":"B","x":287.25,"y":46},{"s":"B","x":287,"y":40},{"s":"B","x":286.75,"y":35.6},{"s":"B","x":286.5,"y":32.9},{"s":"B","x":286.25,"y":31.5},{"s":"B","x":286,"y":30.6},{"s":"B","x":285.5,"y":29.8},{"s":"B","x":285,"y":29.2},{"s":"B","x":280.5,"y":25},
  {"s":"C","x":293,"y":36},{"s":"C","x":289.55,"y":33.5},{"s":"C","x":289.05,"y":33.2},{"s":"C","x":288.55,"y":33.6},{"s":"C","x":288.3,"y":34.5},{"s":"C","x":288.05,"y":36.6},{"s":"C","x":287.8,"y":41},{"s":"C","x":287.55,"y":48.5},{"s":"C","x":287.3,"y":59.2},{"s":"C","x":287.05,"y":71.3},{"s":"C","x":286.8,"y":81.4},{"s":"C","x":286.55,"y":85.3},{"s":"C","x":286.3,"y":81},{"s":"C","x":286.05,"y":70.4},{"s":"C","x":285.8,"y":57.9},{"s":"C","x":285.55,"y":46.7},{"s":"C","x":285.3,"y":38.8},{"s":"C","x":285.05,"y":34},{"s":"C","x":284.8,"y":31.4},{"s":"C","x":284.55,"y":30.1},{"s":"C","x":284.05,"y":28.8},{"s":"C","x":283.55,"y":28.2},{"s":"C","x":280.5,"y":25},
  {"s":"D","x":293,"y":36},{"s":"D","x":288.3,"y":33.2},{"s":"D","x":287.8,"y":33.3},{"s":"D","x":287.3,"y":35},{"s":"D","x":287.05,"y":37.7},{"s":"D","x":286.8,"y":43.7},{"s":"D","x":286.55,"y":55.8},{"s":"D","x":286.3,"y":76.3},{"s":"D","x":286.05,"y":105.2},{"s":"D","x":285.8,"y":137.9},{"s":"D","x":285.55,"y":165.1},{"s":"D","x":285.3,"y":176},{"s":"D","x":285.05,"y":164.7},{"s":"D","x":284.8,"y":137},{"s":"D","x":284.55,"y":103.9},{"s":"D","x":284.3,"y":74.5},{"s":"D","x":284.05,"y":53.6},{"s":"D","x":283.8,"y":41.1},{"s":"D","x":283.55,"y":34.6},{"s":"D","x":283.3,"y":31.5},{"s":"D","x":282.8,"y":28.9},{"s":"D","x":282.3,"y":27.9},{"s":"D","x":280.5,"y":25},
  {"s":"E","x":293,"y":36},{"s":"E","x":287.2,"y":32.9},{"s":"E","x":286.7,"y":33.4},{"s":"E","x":286.2,"y":36},{"s":"E","x":285.95,"y":40.3},{"s":"E","x":285.7,"y":49.7},{"s":"E","x":285.45,"y":68.3},{"s":"E","x":285.2,"y":99.5},{"s":"E","x":284.95,"y":143.5},{"s":"E","x":284.7,"y":193.3},{"s":"E","x":284.45,"y":235.1},{"s":"E","x":284.2,"y":251.7},{"s":"E","x":283.95,"y":234.6},{"s":"E","x":283.7,"y":192.4},{"s":"E","x":283.45,"y":142.2},{"s":"E","x":283.2,"y":97.8},{"s":"E","x":282.95,"y":66.1},{"s":"E","x":282.7,"y":47},{"s":"E","x":282.45,"y":37.2},{"s":"E","x":282.2,"y":32.5},{"s":"E","x":281.7,"y":29},{"s":"E","x":281.2,"y":27.6},{"s":"E","x":280.5,"y":26.4},
  {"s":"env","x":293,"y":36.8},{"s":"env","x":292.5,"y":36.4},{"s":"env","x":292,"y":36.1},{"s":"env","x":291.5,"y":36.1},{"s":"env","x":291,"y":36.8},{"s":"env","x":290.5,"y":40.1},{"s":"env","x":290,"y":46.5},{"s":"env","x":289.5,"y":52.1},{"s":"env","x":289,"y":55.2},{"s":"env","x":288.5,"y":62.3},{"s":"env","x":288,"y":71},{"s":"env","x":287.5,"y":77.1},{"s":"env","x":287,"y":93.2},{"s":"env","x":286.6,"y":114.7},{"s":"env","x":286.2,"y":141.6},{"s":"env","x":285.8,"y":182.2},{"s":"env","x":285.4,"y":231.1},{"s":"env","x":285,"y":269.8},{"s":"env","x":284.7,"y":290.7},{"s":"env","x":284.45,"y":299.7},{"s":"env","x":284.2,"y":289.8},{"s":"env","x":283.9,"y":245.7},{"s":"env","x":283.6,"y":180.9},{"s":"env","x":283.3,"y":118.6},{"s":"env","x":283,"y":74.3},{"s":"env","x":282.7,"y":49.2},{"s":"env","x":282.3,"y":35.7},{"s":"env","x":281.8,"y":30.8},{"s":"env","x":281.2,"y":28.7},{"s":"env","x":280.5,"y":27.3}
 ],
 "d5": [
  {"x":292.92,"y":36},{"x":292.79,"y":37.7},{"x":292.66,"y":35},{"x":292.51,"y":37},{"x":292.38,"y":32.7},{"x":292.27,"y":37.7},{"x":292.17,"y":37},{"x":292.05,"y":36},{"x":291.93,"y":37},{"x":291.83,"y":39.3},{"x":291.69,"y":41},{"x":291.56,"y":41.7},{"x":291.44,"y":44.3},{"x":291.34,"y":41},{"x":291.21,"y":46},{"x":291.08,"y":42},{"x":290.98,"y":44.3},{"x":290.85,"y":47.7},{"x":290.72,"y":45},{"x":290.6,"y":46.7},{"x":290.47,"y":47.7},{"x":290.33,"y":50.3},{"x":290.23,"y":48.7},{"x":290.11,"y":50.3},{"x":290.01,"y":48.3},{"x":289.91,"y":49.3},{"x":289.8,"y":47.7},{"x":289.7,"y":51},{"x":289.6,"y":56},{"x":289.5,"y":54.3},{"x":289.4,"y":52.7},{"x":289.29,"y":51.7},{"x":289.19,"y":51},{"x":289.09,"y":53.7},{"x":288.99,"y":51},{"x":288.88,"y":54.3},{"x":288.78,"y":56},{"x":288.68,"y":61},{"x":288.58,"y":67.7},{"x":288.48,"y":64.3},{"x":288.37,"y":68.3},{"x":288.25,"y":71.7},{"x":288.12,"y":70.3},{"x":288.02,"y":71.7},{"x":287.88,"y":74.3},{"x":287.76,"y":75},{"x":287.66,"y":78.3},{"x":287.56,"y":81},{"x":287.45,"y":82.7},{"x":287.35,"y":87.7},{"x":287.23,"y":90.3},{"x":287.13,"y":91.7},{"x":286.99,"y":96},{"x":286.89,"y":101},{"x":286.79,"y":101.7},{"x":286.66,"y":105},{"x":286.56,"y":109.3},{"x":286.43,"y":114.3},{"x":286.33,"y":124.3},{"x":286.23,"y":130.3},{"x":286.11,"y":136},{"x":286.02,"y":147.7},{"x":285.92,"y":154.3},{"x":285.82,"y":162.7},{"x":285.72,"y":181},{"x":285.62,"y":194.3},{"x":285.53,"y":207.7},{"x":285.46,"y":217.7},{"x":285.39,"y":226},{"x":285.31,"y":241},{"x":285.23,"y":251.7},{"x":285.16,"y":253.7},{"x":285.05,"y":264.3},{"x":284.98,"y":272.7},{"x":284.9,"y":274.3},{"x":284.8,"y":281.7},{"x":284.7,"y":291.7},{"x":284.6,"y":294.3},{"x":284.49,"y":299.3},{"x":284.39,"y":296},{"x":284.29,"y":295},{"x":284.19,"y":291},{"x":284.11,"y":286},{"x":284.03,"y":274.3},{"x":283.98,"y":269.3},{"x":283.88,"y":256},{"x":283.83,"y":246},{"x":283.78,"y":224.3},{"x":283.7,"y":212.7},{"x":283.63,"y":194.3},{"x":283.57,"y":171},{"x":283.47,"y":149.3},{"x":283.37,"y":126},{"x":283.27,"y":104.3},{"x":283.17,"y":94.3},{"x":283.08,"y":77.7},{"x":283.01,"y":71},{"x":282.91,"y":61},{"x":282.81,"y":51.7},{"x":282.71,"y":46},{"x":282.6,"y":41},{"x":282.5,"y":39.3},{"x":282.4,"y":37.7},{"x":282.3,"y":36},{"x":282.2,"y":35},{"x":282.09,"y":34.3},{"x":281.96,"y":32.7},{"x":281.84,"y":30.3},{"x":281.74,"y":31},{"x":281.61,"y":29.3},{"x":281.51,"y":34.3},{"x":281.41,"y":29.3},{"x":281.31,"y":26},{"x":281.22,"y":25},{"x":281.12,"y":24.3},{"x":281.02,"y":28.3},{"x":280.92,"y":26},{"x":280.82,"y":25},{"x":280.71,"y":26},{"x":280.59,"y":23.7},{"x":280.53,"y":21.7}
 ],
 "l5": [
  {"x":292.07,"y":112.7,"t":"C(O)O\n289.8eV\n2.9%"},
  {"x":290.11,"y":138,"t":"C=O\n288eV\n5.8%"},
  {"x":289.01,"y":184.3,"t":"C-O-C\n286.6eV\n11.3%"},
  {"x":287.64,"y":254.7,"t":"C-O/C-N\n285.3eV\n31.3%"},
  {"x":282.35,"y":261.3,"t":"C-C/C=C\n284.2eV\n48.7%"}
 ],
 "r5": [
  {"x":290.91,"y":68.3,"x2":290.01,"y2":51,"a":-59.4},
  {"x":288.85,"y":93.7,"x2":288.04,"y2":47.7,"a":-30.1},
  {"x":287.76,"y":130,"x2":286.77,"y2":61.7,"a":-25.3},
  {"x":286.62,"y":198.3,"x2":285.59,"y2":111,"a":-21.1},
  {"x":282.5,"y":219.3,"x2":284.06,"y2":144.3,"a":34.2}
 ],
 "t5": [
  {"k":"box","x":292.6,"x2":288.21,"y":320.3,"y2":291},
  {"k":"big","x":292.53,"y":302.3,"t":"C1s - PILGD"},
  {"k":"sub","x":289.29,"y":297.7,"t":"9"},
  {"k":"big","x":289.13,"y":302.3,"t":"AD"}
 ],
 "c6": [
  {"s":"bg","x":405.5,"y":43.7},{"s":"bg","x":394.5,"y":149.3},
  {"s":"G","x":405.5,"y":43.7},{"s":"G","x":404.4,"y":55},{"s":"G","x":403.9,"y":60.1},{"s":"G","x":403.4,"y":65.5},{"s":"G","x":403.15,"y":68.7},{"s":"G","x":402.9,"y":72.9},{"s":"G","x":402.65,"y":79.5},{"s":"G","x":402.4,"y":90.8},{"s":"G","x":402.15,"y":108.3},{"s":"G","x":401.9,"y":131.2},{"s":"G","x":401.65,"y":152.8},{"s":"G","x":401.4,"y":163.6},{"s":"G","x":401.15,"y":157.6},{"s":"G","x":400.9,"y":140.8},{"s":"G","x":400.65,"y":122.7},{"s":"G","x":400.4,"y":110},{"s":"G","x":400.15,"y":103.5},{"s":"G","x":399.9,"y":101.7},{"s":"G","x":399.65,"y":102.3},{"s":"G","x":399.4,"y":103.9},{"s":"G","x":398.9,"y":108.1},{"s":"G","x":398.4,"y":112.6},{"s":"G","x":394.5,"y":149.3},
  {"s":"M","x":405.5,"y":43.7},{"s":"M","x":402.75,"y":71.6},{"s":"M","x":402.25,"y":77},{"s":"M","x":401.75,"y":83.1},{"s":"M","x":401.5,"y":87.1},{"s":"M","x":401.25,"y":93.2},{"s":"M","x":401,"y":104.4},{"s":"M","x":400.75,"y":125.4},{"s":"M","x":400.5,"y":159.4},{"s":"M","x":400.25,"y":204.5},{"s":"M","x":400,"y":247},{"s":"M","x":399.75,"y":266.9},{"s":"M","x":399.5,"y":251.8},{"s":"M","x":399.25,"y":214.1},{"s":"M","x":399,"y":173.8},{"s":"M","x":398.75,"y":144.6},{"s":"M","x":398.5,"y":128.4},{"s":"M","x":398.25,"y":122},{"s":"M","x":398,"y":120.7},{"s":"M","x":397.75,"y":121.5},{"s":"M","x":397.25,"y":125},{"s":"M","x":396.75,"y":129.2},{"s":"M","x":394.5,"y":149.3},
  {"s":"K","x":405.5,"y":43.7},{"s":"K","x":401.35,"y":84.6},{"s":"K","x":400.85,"y":89.9},{"s":"K","x":400.35,"y":95.7},{"s":"K","x":400.1,"y":99.2},{"s":"K","x":399.85,"y":104.5},{"s":"K","x":399.6,"y":113.4},{"s":"K","x":399.35,"y":129.9},{"s":"K","x":399.1,"y":156},{"s":"K","x":398.85,"y":190.5},{"s":"K","x":398.6,"y":223.2},{"s":"K","x":398.35,"y":238.7},{"s":"K","x":398.1,"y":228},{"s":"K","x":397.85,"y":200.1},{"s":"K","x":397.6,"y":170.4},{"s":"K","x":397.35,"y":149.1},{"s":"K","x":397.1,"y":137.4},{"s":"K","x":396.85,"y":133.3},{"s":"K","x":396.6,"y":132.8},{"s":"K","x":396.35,"y":134.1},{"s":"K","x":395.85,"y":137.9},{"s":"K","x":395.35,"y":142.2},{"s":"K","x":394.5,"y":149.3},
  {"s":"env","x":405.5,"y":44.8},{"s":"env","x":405,"y":49.75},{"s":"env","x":404.5,"y":54.8},{"s":"env","x":404,"y":60.1},{"s":"env","x":403.5,"y":65.6},{"s":"env","x":403,"y":72.65},{"s":"env","x":402.6,"y":83.4},{"s":"env","x":402.3,"y":99.7},{"s":"env","x":402,"y":125.1},{"s":"env","x":401.7,"y":153.5},{"s":"env","x":401.4,"y":170.7},{"s":"env","x":401.1,"y":169.4},{"s":"env","x":400.8,"y":166.3},{"s":"env","x":400.5,"y":184.2},{"s":"env","x":400.2,"y":226.8},{"s":"env","x":400,"y":257.1},{"s":"env","x":399.75,"y":278.4},{"s":"env","x":399.5,"y":271.4},{"s":"env","x":399.2,"y":249},{"s":"env","x":399,"y":244},{"s":"env","x":398.7,"y":248},{"s":"env","x":398.4,"y":252.5},{"s":"env","x":398.1,"y":234.7},{"s":"env","x":397.8,"y":198},{"s":"env","x":397.5,"y":163.95},{"s":"env","x":397.2,"y":143.5},{"s":"env","x":396.8,"y":134.9},{"s":"env","x":396.3,"y":136},{"s":"env","x":395.8,"y":139.5},{"s":"env","x":395.2,"y":144.6},{"s":"env","x":394.5,"y":150.9}
 ],
 "d6": [
  {"x":405.48,"y":31.3},{"x":405.42,"y":15.3},{"x":405.3,"y":91},{"x":405.21,"y":31.3},{"x":405.1,"y":95.3},{"x":405,"y":33.7},{"x":404.91,"y":67},{"x":404.81,"y":88},{"x":404.72,"y":74.3},{"x":404.61,"y":61},{"x":404.5,"y":78},{"x":404.4,"y":54.7},{"x":404.31,"y":82.7},{"x":404.2,"y":14.7},{"x":404.11,"y":62},{"x":404,"y":89.3},{"x":403.91,"y":54.7},{"x":403.81,"y":65.3},{"x":403.7,"y":59.3},{"x":403.6,"y":82.7},{"x":403.5,"y":75.3},{"x":403.39,"y":131.3},{"x":403.3,"y":73.7},{"x":403.21,"y":75.3},{"x":403.1,"y":95.3},{"x":402.99,"y":68.7},{"x":402.9,"y":91.3},{"x":402.8,"y":120.3},{"x":402.7,"y":73.7},{"x":402.6,"y":121.3},{"x":402.49,"y":115.3},{"x":402.4,"y":68},{"x":402.31,"y":71.3},{"x":402.19,"y":130.7},{"x":402.09,"y":120.3},{"x":401.99,"y":81},{"x":401.9,"y":154.7},{"x":401.79,"y":178},{"x":401.69,"y":142.7},{"x":401.59,"y":188},{"x":401.48,"y":157},{"x":401.39,"y":137.7},{"x":401.29,"y":187},{"x":401.2,"y":154.7},{"x":401.09,"y":152},{"x":401,"y":178.7},{"x":400.9,"y":197.7},{"x":400.78,"y":167},{"x":400.69,"y":235.3},{"x":400.6,"y":249.3},{"x":400.51,"y":197},{"x":400.4,"y":219.7},{"x":400.3,"y":217},{"x":400.19,"y":246},{"x":400.09,"y":271},{"x":399.99,"y":300.3},{"x":399.88,"y":271},{"x":399.79,"y":218.7},{"x":399.69,"y":262},{"x":399.6,"y":291.3},{"x":399.49,"y":267},{"x":399.39,"y":252},{"x":399.28,"y":279.7},{"x":399.18,"y":251.3},{"x":399.09,"y":257.7},{"x":398.99,"y":290.3},{"x":398.88,"y":290.3},{"x":398.79,"y":250.3},{"x":398.69,"y":277.7},{"x":398.59,"y":215.3},{"x":398.48,"y":208.7},{"x":398.38,"y":280.3},{"x":398.28,"y":190.3},{"x":398.18,"y":234.7},{"x":398.09,"y":224.3},{"x":397.99,"y":215.3},{"x":397.88,"y":217},{"x":397.78,"y":199.3},{"x":397.68,"y":204.3},{"x":397.58,"y":176},{"x":397.47,"y":170.3},{"x":397.38,"y":169.3},{"x":397.28,"y":175.3},{"x":397.18,"y":164.3},{"x":397.09,"y":183.7},{"x":396.99,"y":147},{"x":396.89,"y":147},{"x":396.77,"y":122.7},{"x":396.67,"y":143.7},{"x":396.57,"y":83},{"x":396.47,"y":103},{"x":396.38,"y":143.7},{"x":396.28,"y":159},{"x":396.18,"y":147.7},{"x":396.09,"y":181},{"x":395.99,"y":130.3},{"x":395.89,"y":156.3},{"x":395.78,"y":140.3},{"x":395.68,"y":151},{"x":395.58,"y":107.7},{"x":395.47,"y":128},{"x":395.38,"y":153.7},{"x":395.28,"y":140.3},{"x":395.18,"y":138.7},{"x":395.09,"y":155.3},{"x":394.99,"y":111.3},{"x":394.88,"y":130.3},{"x":394.78,"y":176},{"x":394.67,"y":138.7},{"x":394.58,"y":148},{"x":394.51,"y":135.3}
 ],
 "l6": [
  {"x":404.13,"y":219,"t":"NH₃⁺\n401.4eV\n21.4%"},
  {"x":402.56,"y":283,"t":"NH₂\n399.8eV\n44.8%"},
  {"x":397.04,"y":280.7,"t":"C-N\n398.4eV\n33.8%"}
 ],
 "r6": [
  {"x":402.94,"y":169.3,"x2":401.48,"y2":115.3,"a":-45},
  {"x":401.32,"y":234.7,"x2":399.82,"y2":172.7,"a":-41.9},
  {"x":397.15,"y":236,"x2":398.09,"y2":167,"a":26.9}
 ],
 "t6": [
  {"k":"box","x":405.3,"x2":401.41,"y":320.3,"y2":291.3},
  {"k":"big","x":405.22,"y":302.7,"t":"N1s - PILGD"},
  {"k":"sub","x":402.35,"y":298,"t":"9"},
  {"k":"big","x":402.22,"y":302.7,"t":"AD"}
 ]
},
"spacing": 15,
"vconcat": [
 {"spacing": 16, "hconcat": [
  {"width": 408, "height": 328,
   "encoding": {
    "x": {"field": "x", "type": "quantitative", "scale": {"domain": [293, 280.5], "nice": false, "zero": false}, "axis": {"title": "Binding Energy (eV)", "values": [281,282,283,284,285,286,287,288,289,290,291,292,293], "labelExpr": "datum.value % 2 == 0 ? datum.label : ''", "tickSize": {"condition": {"test": "datum.value % 2 == 0", "value": 5}, "value": 3}}},
    "y": {"field": "y", "type": "quantitative", "scale": {"domain": [0, 328], "nice": false, "zero": false}, "axis": {"title": "Intensity (arb. units)"}}
   },
   "layer": [
    {"data": {"name": "c1"}, "transform": [{"filter": "datum.s != 'env'"}], "mark": {"type": "line", "interpolate": "monotone", "strokeWidth": 1.1}, "encoding": {"color": {"field": "s", "type": "nominal", "scale": {"domain": ["bg","A","B","C","D","E","G","M","K"], "range": ["#5a44c8","#a040f0","#3a3a9e","#2e9e2e","#ff22ff","#2a2aff","#2e9e2e","#ff22ff","#2a2aff"]}, "legend": null}}},
    {"data": {"name": "c1"}, "transform": [{"filter": "datum.s == 'env'"}], "mark": {"type": "line", "interpolate": "monotone", "strokeWidth": 1.2, "color": "#ff2a2a"}},
    {"data": {"name": "d1"}, "mark": {"type": "point", "shape": "circle", "size": 38, "filled": false, "color": "#111", "strokeWidth": 1, "opacity": 1, "clip": true}},
    {"data": {"name": "t1"}, "transform": [{"filter": "datum.k == 'box'"}], "mark": {"type": "rect", "fill": "#fff", "stroke": "#222", "strokeWidth": 1.3}, "encoding": {"x2": {"field": "x2"}, "y2": {"field": "y2"}}},
    {"data": {"name": "t1"}, "transform": [{"filter": "datum.k == 'big'"}], "mark": {"type": "text", "align": "left", "baseline": "alphabetic", "fontSize": 17.5, "fontStyle": "italic", "fontWeight": "bold", "color": "#111"}, "encoding": {"text": {"field": "t"}}},
    {"data": {"name": "t1"}, "transform": [{"filter": "datum.k == 'sub'"}], "mark": {"type": "text", "align": "center", "baseline": "alphabetic", "fontSize": 10, "fontStyle": "italic", "fontWeight": "bold", "color": "#111"}, "encoding": {"text": {"field": "t"}}},
    {"data": {"name": "l1"}, "mark": {"type": "text", "align": "left", "baseline": "top", "fontSize": 14, "fontWeight": "bold", "color": "#3a3a3a", "lineBreak": "\n", "lineHeight": 21}, "encoding": {"text": {"field": "t"}}},
    {"data": {"name": "r1"}, "mark": {"type": "rule", "color": "#222", "strokeWidth": 1}, "encoding": {"x2": {"field": "x2"}, "y2": {"field": "y2"}}},
    {"data": {"name": "r1"}, "mark": {"type": "point", "shape": "M0,0L-0.45,1.1L0.45,1.1Z", "filled": true, "color": "#222", "size": 200, "opacity": 1}, "encoding": {"angle": {"field": "a", "type": "quantitative", "scale": null}}}
   ]
  },
  {"width": 397, "height": 322,
   "encoding": {
    "x": {"field": "x", "type": "quantitative", "scale": {"domain": [405, 396], "nice": false, "zero": false}, "axis": {"title": "Binding Energy (eV)", "values": [396,397,398,399,400,401,402,403,404,405], "labelExpr": "datum.value % 2 == 0 ? datum.label : ''", "tickSize": {"condition": {"test": "datum.value % 2 == 0", "value": 5}, "value": 3}}},
    "y": {"field": "y", "type": "quantitative", "scale": {"domain": [0, 322], "nice": false, "zero": false}, "axis": null}
   },
   "layer": [
    {"data": {"name": "c2"}, "transform": [{"filter": "datum.s != 'env'"}], "mark": {"type": "line", "interpolate": "monotone", "strokeWidth": 1.1}, "encoding": {"color": {"field": "s", "type": "nominal", "scale": {"domain": ["bg","A","B","C","D","E","G","M","K"], "range": ["#5a44c8","#a040f0","#3a3a9e","#2e9e2e","#ff22ff","#2a2aff","#2e9e2e","#ff22ff","#2a2aff"]}, "legend": null}}},
    {"data": {"name": "c2"}, "transform": [{"filter": "datum.s == 'env'"}], "mark": {"type": "line", "interpolate": "monotone", "strokeWidth": 1.2, "color": "#ff2a2a"}},
    {"data": {"name": "d2"}, "mark": {"type": "point", "shape": "circle", "size": 38, "filled": false, "color": "#111", "strokeWidth": 1, "opacity": 1, "clip": true}},
    {"data": {"name": "t2"}, "transform": [{"filter": "datum.k == 'box'"}], "mark": {"type": "rect", "fill": "#fff", "stroke": "#222", "strokeWidth": 1.3}, "encoding": {"x2": {"field": "x2"}, "y2": {"field": "y2"}}},
    {"data": {"name": "t2"}, "transform": [{"filter": "datum.k == 'big'"}], "mark": {"type": "text", "align": "left", "baseline": "alphabetic", "fontSize": 17.5, "fontStyle": "italic", "fontWeight": "bold", "color": "#111"}, "encoding": {"text": {"field": "t"}}},
    {"data": {"name": "t2"}, "transform": [{"filter": "datum.k == 'sub'"}], "mark": {"type": "text", "align": "center", "baseline": "alphabetic", "fontSize": 10, "fontStyle": "italic", "fontWeight": "bold", "color": "#111"}, "encoding": {"text": {"field": "t"}}},
    {"data": {"name": "l2"}, "mark": {"type": "text", "align": "left", "baseline": "top", "fontSize": 14, "fontWeight": "bold", "color": "#3a3a3a", "lineBreak": "\n", "lineHeight": 21}, "encoding": {"text": {"field": "t"}}},
    {"data": {"name": "r2"}, "mark": {"type": "rule", "color": "#222", "strokeWidth": 1}, "encoding": {"x2": {"field": "x2"}, "y2": {"field": "y2"}}},
    {"data": {"name": "r2"}, "mark": {"type": "point", "shape": "M0,0L-0.45,1.1L0.45,1.1Z", "filled": true, "color": "#222", "size": 200, "opacity": 1}, "encoding": {"angle": {"field": "a", "type": "quantitative", "scale": null}}}
   ]
  }
 ]},
 {"spacing": 16, "hconcat": [
  {"width": 408, "height": 328,
   "encoding": {
    "x": {"field": "x", "type": "quantitative", "scale": {"domain": [293, 281], "nice": false, "zero": false}, "axis": {"title": "Binding Energy (eV)", "values": [281,282,283,284,285,286,287,288,289,290,291,292,293], "labelExpr": "datum.value % 2 == 0 ? datum.label : ''", "tickSize": {"condition": {"test": "datum.value % 2 == 0", "value": 5}, "value": 3}}},
    "y": {"field": "y", "type": "quantitative", "scale": {"domain": [0, 328], "nice": false, "zero": false}, "axis": {"title": "Intensity (arb. units)"}}
   },
   "layer": [
    {"data": {"name": "c3"}, "transform": [{"filter": "datum.s != 'env'"}], "mark": {"type": "line", "interpolate": "monotone", "strokeWidth": 1.1}, "encoding": {"color": {"field": "s", "type": "nominal", "scale": {"domain": ["bg","A","B","C","D","E","G","M","K"], "range": ["#5a44c8","#a040f0","#3a3a9e","#2e9e2e","#ff22ff","#2a2aff","#2e9e2e","#ff22ff","#2a2aff"]}, "legend": null}}},
    {"data": {"name": "c3"}, "transform": [{"filter": "datum.s == 'env'"}], "mark": {"type": "line", "interpolate": "monotone", "strokeWidth": 1.2, "color": "#ff2a2a"}},
    {"data": {"name": "d3"}, "mark": {"type": "point", "shape": "circle", "size": 38, "filled": false, "color": "#111", "strokeWidth": 1, "opacity": 1, "clip": true}},
    {"data": {"name": "t3"}, "transform": [{"filter": "datum.k == 'box'"}], "mark": {"type": "rect", "fill": "#fff", "stroke": "#222", "strokeWidth": 1.3}, "encoding": {"x2": {"field": "x2"}, "y2": {"field": "y2"}}},
    {"data": {"name": "t3"}, "transform": [{"filter": "datum.k == 'big'"}], "mark": {"type": "text", "align": "left", "baseline": "alphabetic", "fontSize": 17.5, "fontStyle": "italic", "fontWeight": "bold", "color": "#111"}, "encoding": {"text": {"field": "t"}}},
    {"data": {"name": "t3"}, "transform": [{"filter": "datum.k == 'sub'"}], "mark": {"type": "text", "align": "center", "baseline": "alphabetic", "fontSize": 10, "fontStyle": "italic", "fontWeight": "bold", "color": "#111"}, "encoding": {"text": {"field": "t"}}},
    {"data": {"name": "l3"}, "mark": {"type": "text", "align": "left", "baseline": "top", "fontSize": 14, "fontWeight": "bold", "color": "#3a3a3a", "lineBreak": "\n", "lineHeight": 21}, "encoding": {"text": {"field": "t"}}},
    {"data": {"name": "r3"}, "mark": {"type": "rule", "color": "#222", "strokeWidth": 1}, "encoding": {"x2": {"field": "x2"}, "y2": {"field": "y2"}}},
    {"data": {"name": "r3"}, "mark": {"type": "point", "shape": "M0,0L-0.45,1.1L0.45,1.1Z", "filled": true, "color": "#222", "size": 200, "opacity": 1}, "encoding": {"angle": {"field": "a", "type": "quantitative", "scale": null}}}
   ]
  },
  {"width": 396, "height": 323,
   "encoding": {
    "x": {"field": "x", "type": "quantitative", "scale": {"domain": [405, 395], "nice": false, "zero": false}, "axis": {"title": "Binding Energy (eV)", "values": [395,396,397,398,399,400,401,402,403,404,405], "labelExpr": "datum.value % 2 == 0 ? datum.label : ''", "tickSize": {"condition": {"test": "datum.value % 2 == 0", "value": 5}, "value": 3}}},
    "y": {"field": "y", "type": "quantitative", "scale": {"domain": [0, 323], "nice": false, "zero": false}, "axis": null}
   },
   "layer": [
    {"data": {"name": "c4"}, "transform": [{"filter": "datum.s != 'env'"}], "mark": {"type": "line", "interpolate": "monotone", "strokeWidth": 1.1}, "encoding": {"color": {"field": "s", "type": "nominal", "scale": {"domain": ["bg","A","B","C","D","E","G","M","K"], "range": ["#5a44c8","#a040f0","#3a3a9e","#2e9e2e","#ff22ff","#2a2aff","#2e9e2e","#ff22ff","#2a2aff"]}, "legend": null}}},
    {"data": {"name": "c4"}, "transform": [{"filter": "datum.s == 'env'"}], "mark": {"type": "line", "interpolate": "monotone", "strokeWidth": 1.2, "color": "#ff2a2a"}},
    {"data": {"name": "d4"}, "mark": {"type": "point", "shape": "circle", "size": 38, "filled": false, "color": "#111", "strokeWidth": 1, "opacity": 1, "clip": true}},
    {"data": {"name": "t4"}, "transform": [{"filter": "datum.k == 'box'"}], "mark": {"type": "rect", "fill": "#fff", "stroke": "#222", "strokeWidth": 1.3}, "encoding": {"x2": {"field": "x2"}, "y2": {"field": "y2"}}},
    {"data": {"name": "t4"}, "transform": [{"filter": "datum.k == 'big'"}], "mark": {"type": "text", "align": "left", "baseline": "alphabetic", "fontSize": 17.5, "fontStyle": "italic", "fontWeight": "bold", "color": "#111"}, "encoding": {"text": {"field": "t"}}},
    {"data": {"name": "t4"}, "transform": [{"filter": "datum.k == 'sub'"}], "mark": {"type": "text", "align": "center", "baseline": "alphabetic", "fontSize": 10, "fontStyle": "italic", "fontWeight": "bold", "color": "#111"}, "encoding": {"text": {"field": "t"}}},
    {"data": {"name": "l4"}, "mark": {"type": "text", "align": "left", "baseline": "top", "fontSize": 14, "fontWeight": "bold", "color": "#3a3a3a", "lineBreak": "\n", "lineHeight": 21}, "encoding": {"text": {"field": "t"}}},
    {"data": {"name": "r4"}, "mark": {"type": "rule", "color": "#222", "strokeWidth": 1}, "encoding": {"x2": {"field": "x2"}, "y2": {"field": "y2"}}},
    {"data": {"name": "r4"}, "mark": {"type": "point", "shape": "M0,0L-0.45,1.1L0.45,1.1Z", "filled": true, "color": "#222", "size": 200, "opacity": 1}, "encoding": {"angle": {"field": "a", "type": "quantitative", "scale": null}}}
   ]
  }
 ]},
 {"spacing": 16, "hconcat": [
  {"width": 408, "height": 329,
   "encoding": {
    "x": {"field": "x", "type": "quantitative", "scale": {"domain": [293, 280.5], "nice": false, "zero": false}, "axis": {"title": "Binding Energy (eV)", "values": [281,282,283,284,285,286,287,288,289,290,291,292,293], "labelExpr": "datum.value % 2 == 0 ? datum.label : ''", "tickSize": {"condition": {"test": "datum.value % 2 == 0", "value": 5}, "value": 3}}},
    "y": {"field": "y", "type": "quantitative", "scale": {"domain": [0, 329], "nice": false, "zero": false}, "axis": {"title": "Intensity (arb. units)"}}
   },
   "layer": [
    {"data": {"name": "c5"}, "transform": [{"filter": "datum.s != 'env'"}], "mark": {"type": "line", "interpolate": "monotone", "strokeWidth": 1.1}, "encoding": {"color": {"field": "s", "type": "nominal", "scale": {"domain": ["bg","A","B","C","D","E","G","M","K"], "range": ["#5a44c8","#a040f0","#3a3a9e","#2e9e2e","#ff22ff","#2a2aff","#2e9e2e","#ff22ff","#2a2aff"]}, "legend": null}}},
    {"data": {"name": "c5"}, "transform": [{"filter": "datum.s == 'env'"}], "mark": {"type": "line", "interpolate": "monotone", "strokeWidth": 1.2, "color": "#ff2a2a"}},
    {"data": {"name": "d5"}, "mark": {"type": "point", "shape": "circle", "size": 38, "filled": false, "color": "#111", "strokeWidth": 1, "opacity": 1, "clip": true}},
    {"data": {"name": "t5"}, "transform": [{"filter": "datum.k == 'box'"}], "mark": {"type": "rect", "fill": "#fff", "stroke": "#222", "strokeWidth": 1.3}, "encoding": {"x2": {"field": "x2"}, "y2": {"field": "y2"}}},
    {"data": {"name": "t5"}, "transform": [{"filter": "datum.k == 'big'"}], "mark": {"type": "text", "align": "left", "baseline": "alphabetic", "fontSize": 17.5, "fontStyle": "italic", "fontWeight": "bold", "color": "#111"}, "encoding": {"text": {"field": "t"}}},
    {"data": {"name": "t5"}, "transform": [{"filter": "datum.k == 'sub'"}], "mark": {"type": "text", "align": "center", "baseline": "alphabetic", "fontSize": 10, "fontStyle": "italic", "fontWeight": "bold", "color": "#111"}, "encoding": {"text": {"field": "t"}}},
    {"data": {"name": "l5"}, "mark": {"type": "text", "align": "left", "baseline": "top", "fontSize": 14, "fontWeight": "bold", "color": "#3a3a3a", "lineBreak": "\n", "lineHeight": 21}, "encoding": {"text": {"field": "t"}}},
    {"data": {"name": "r5"}, "mark": {"type": "rule", "color": "#222", "strokeWidth": 1}, "encoding": {"x2": {"field": "x2"}, "y2": {"field": "y2"}}},
    {"data": {"name": "r5"}, "mark": {"type": "point", "shape": "M0,0L-0.45,1.1L0.45,1.1Z", "filled": true, "color": "#222", "size": 200, "opacity": 1}, "encoding": {"angle": {"field": "a", "type": "quantitative", "scale": null}}}
   ]
  },
  {"width": 407, "height": 330,
   "encoding": {
    "x": {"field": "x", "type": "quantitative", "scale": {"domain": [405.5, 394.5], "nice": false, "zero": false}, "axis": {"title": "Binding Energy (eV)", "values": [395,396,397,398,399,400,401,402,403,404,405], "labelExpr": "datum.value % 2 == 0 ? datum.label : ''", "tickSize": {"condition": {"test": "datum.value % 2 == 0", "value": 5}, "value": 3}}},
    "y": {"field": "y", "type": "quantitative", "scale": {"domain": [0, 330], "nice": false, "zero": false}, "axis": null}
   },
   "layer": [
    {"data": {"name": "c6"}, "transform": [{"filter": "datum.s != 'env'"}], "mark": {"type": "line", "interpolate": "monotone", "strokeWidth": 1.1}, "encoding": {"color": {"field": "s", "type": "nominal", "scale": {"domain": ["bg","A","B","C","D","E","G","M","K"], "range": ["#5a44c8","#a040f0","#3a3a9e","#2e9e2e","#ff22ff","#2a2aff","#2e9e2e","#ff22ff","#2a2aff"]}, "legend": null}}},
    {"data": {"name": "c6"}, "transform": [{"filter": "datum.s == 'env'"}], "mark": {"type": "line", "interpolate": "monotone", "strokeWidth": 1.2, "color": "#ff2a2a"}},
    {"data": {"name": "d6"}, "mark": {"type": "point", "shape": "circle", "size": 38, "filled": false, "color": "#111", "strokeWidth": 1, "opacity": 1, "clip": true}},
    {"data": {"name": "t6"}, "transform": [{"filter": "datum.k == 'box'"}], "mark": {"type": "rect", "fill": "#fff", "stroke": "#222", "strokeWidth": 1.3}, "encoding": {"x2": {"field": "x2"}, "y2": {"field": "y2"}}},
    {"data": {"name": "t6"}, "transform": [{"filter": "datum.k == 'big'"}], "mark": {"type": "text", "align": "left", "baseline": "alphabetic", "fontSize": 17.5, "fontStyle": "italic", "fontWeight": "bold", "color": "#111"}, "encoding": {"text": {"field": "t"}}},
    {"data": {"name": "t6"}, "transform": [{"filter": "datum.k == 'sub'"}], "mark": {"type": "text", "align": "center", "baseline": "alphabetic", "fontSize": 10, "fontStyle": "italic", "fontWeight": "bold", "color": "#111"}, "encoding": {"text": {"field": "t"}}},
    {"data": {"name": "l6"}, "mark": {"type": "text", "align": "left", "baseline": "top", "fontSize": 14, "fontWeight": "bold", "color": "#3a3a3a", "lineBreak": "\n", "lineHeight": 21}, "encoding": {"text": {"field": "t"}}},
    {"data": {"name": "r6"}, "mark": {"type": "rule", "color": "#222", "strokeWidth": 1}, "encoding": {"x2": {"field": "x2"}, "y2": {"field": "y2"}}},
    {"data": {"name": "r6"}, "mark": {"type": "point", "shape": "M0,0L-0.45,1.1L0.45,1.1Z", "filled": true, "color": "#222", "size": 200, "opacity": 1}, "encoding": {"angle": {"field": "a", "type": "quantitative", "scale": null}}}
   ]
  }
 ]}
]
}
